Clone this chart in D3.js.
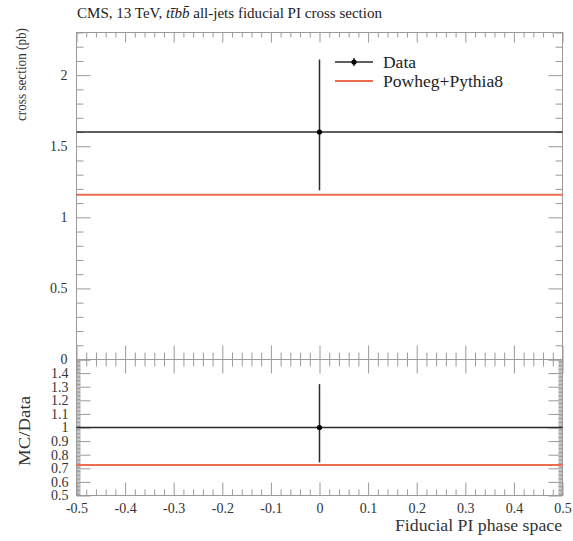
<!DOCTYPE html>
<html>
<head>
<meta charset="utf-8">
<script src="https://cdn.jsdelivr.net/npm/d3@7"></script>
<style>
  html, body { margin: 0; padding: 0; background: #fff; }
  svg { display: block; font-family: "Liberation Serif", "DejaVu Serif", serif; }
</style>
</head>
<body>
<svg id="chart" width="573" height="541"></svg>
<script>
// ---- data ----
const binEdges = [-0.5, 0.5];
const dataX = [0];
const dataY = [1.60];
const dataErrUp = [0.51];
const dataErrDown = [0.41];
const powhegY = [1.159];
const seriesNames = ["Data", "Powheg+Pythia8"];
const xTickValues = [-0.5, -0.4, -0.3, -0.2, -0.1, 0, 0.1, 0.2, 0.3, 0.4, 0.5];
const topYTickLabels = [0, 0.5, 1, 1.5, 2];
const ratioYTickLabels = [0.5, 0.6, 0.7, 0.8, 0.9, 1, 1.1, 1.2, 1.3, 1.4];

// ---- layout ----
const svg = d3.select("#chart");
const L = 76.5, R = 562.5, T = 32.5, MID = 359.5, B = 495.5;
const frameColor = "#9a9a9a";
const dataColor = "#2a2a2a";
const mcColor = "#ee6b52";

const x = d3.scaleLinear().domain([-0.5, 0.5]).range([L, R]);
const yTop = d3.scaleLinear().domain([0, 2.3]).range([MID, T]);
const yBot = d3.scaleLinear().domain([0.5, 1.5]).range([B, MID]);

const ratioY = dataY.map((d) => 1);
const ratioUp = dataY.map((d, i) => dataErrUp[i] / d);
const ratioDown = dataY.map((d, i) => dataErrDown[i] / d);
const ratioMC = powhegY.map((p, i) => p / dataY[i]);

function range(a, b, step) {
  const out = [];
  const n = Math.round((b - a) / step);
  for (let i = 0; i <= n; i++) out.push(+(a + i * step).toFixed(6));
  return out;
}
function isMult(v, m) { return Math.abs(v / m - Math.round(v / m)) < 1e-6; }

// ---- ticks (drawn with d3 axes) ----
function axisTicks(axisFn, scale, values, size, transform) {
  const g = svg.append("g").attr("transform", transform)
    .call(axisFn(scale).tickValues(values).tickSize(size).tickFormat(""));
  g.select(".domain").remove();
  g.selectAll("line").attr("stroke", frameColor).attr("stroke-width", 1);
  return g;
}
const xMinor = range(-0.5, 0.5, 0.02).filter(v => !isMult(v, 0.1));
const xMajor = range(-0.5, 0.5, 0.1);

// top panel: top border ticks (pointing down)
axisTicks(d3.axisBottom, x, xMajor, 10, `translate(0,${T})`);
axisTicks(d3.axisBottom, x, xMinor, 5, `translate(0,${T})`);
// top panel: bottom ticks (pointing up)
axisTicks(d3.axisTop, x, xMajor, 14, `translate(0,${MID})`);
axisTicks(d3.axisTop, x, xMinor, 7, `translate(0,${MID})`);
// ratio panel: top ticks (pointing down)
axisTicks(d3.axisBottom, x, xMajor, 14, `translate(0,${MID})`);
axisTicks(d3.axisBottom, x, xMinor, 7, `translate(0,${MID})`);
// ratio panel: bottom ticks (pointing up)
axisTicks(d3.axisTop, x, xMajor, 13, `translate(0,${B})`);
axisTicks(d3.axisTop, x, xMinor, 6, `translate(0,${B})`);

// top panel y ticks
const yTopMajor = range(0, 2.0, 0.5);
const yTopMinor = range(0, 2.3, 0.1).filter(v => !isMult(v, 0.5));
axisTicks(d3.axisRight, yTop, yTopMajor, 14, `translate(${L},0)`);
axisTicks(d3.axisRight, yTop, yTopMinor, 7, `translate(${L},0)`);
axisTicks(d3.axisLeft, yTop, yTopMajor, 14, `translate(${R},0)`);
axisTicks(d3.axisLeft, yTop, yTopMinor, 7, `translate(${R},0)`);

// ratio y ticks
const yBotMajor = range(0.5, 1.5, 0.1);
const yBotMinor = range(0.5, 1.5, 0.01).filter(v => !isMult(v, 0.1));
axisTicks(d3.axisRight, yBot, yBotMajor, 14, `translate(${L},0)`);
axisTicks(d3.axisRight, yBot, yBotMinor, 4, `translate(${L},0)`);
axisTicks(d3.axisLeft, yBot, yBotMajor, 14, `translate(${R},0)`);
axisTicks(d3.axisLeft, yBot, yBotMinor, 4, `translate(${R},0)`);

// frames
svg.append("rect").attr("x", L).attr("y", T).attr("width", R - L).attr("height", MID - T)
  .attr("fill", "none").attr("stroke", frameColor).attr("stroke-width", 1);
svg.append("rect").attr("x", L).attr("y", MID).attr("width", R - L).attr("height", B - MID)
  .attr("fill", "none").attr("stroke", frameColor).attr("stroke-width", 1);

// ---- tick labels ----
const fmt = d => (d === 0 ? "0" : String(d));
const labFont = 14;
const yLabTop = svg.append("g").attr("transform", `translate(${L},0)`)
  .call(d3.axisLeft(yTop).tickValues(topYTickLabels).tickSize(0).tickPadding(9).tickFormat(fmt));
yLabTop.select(".domain").remove();
yLabTop.selectAll("text").attr("font-size", labFont).attr("font-family", "Liberation Serif").attr("fill", "#333");

const yLabBot = svg.append("g").attr("transform", `translate(${L},0)`)
  .call(d3.axisLeft(yBot).tickValues(ratioYTickLabels).tickSize(0).tickPadding(8).tickFormat(fmt));
yLabBot.select(".domain").remove();
yLabBot.selectAll("text").attr("font-size", labFont).attr("font-family", "Liberation Serif").attr("fill", "#333");

const xLab = svg.append("g").attr("transform", `translate(0,${B})`)
  .call(d3.axisBottom(x).tickValues(xTickValues).tickSize(0).tickPadding(8).tickFormat(fmt));
xLab.select(".domain").remove();
xLab.selectAll("text").attr("font-size", labFont).attr("font-family", "Liberation Serif").attr("fill", "#333");

// ---- marks: top panel ----
const gTop = svg.append("g");
gTop.append("line")
  .attr("x1", x(binEdges[0])).attr("x2", x(binEdges[1]))
  .attr("y1", yTop(powhegY[0])).attr("y2", yTop(powhegY[0]))
  .attr("stroke", mcColor).attr("stroke-width", 2);
gTop.append("line")
  .attr("x1", x(binEdges[0])).attr("x2", x(binEdges[1]))
  .attr("y1", yTop(dataY[0])).attr("y2", yTop(dataY[0]))
  .attr("stroke", dataColor).attr("stroke-width", 1.5);
gTop.selectAll(".err").data(dataX).enter().append("line")
  .attr("x1", d => x(d)).attr("x2", d => x(d))
  .attr("y1", (d, i) => yTop(dataY[i] + dataErrUp[i]))
  .attr("y2", (d, i) => yTop(dataY[i] - dataErrDown[i]))
  .attr("stroke", dataColor).attr("stroke-width", 1.5);
gTop.selectAll(".pt").data(dataX).enter().append("circle")
  .attr("cx", d => x(d)).attr("cy", (d, i) => yTop(dataY[i])).attr("r", 2.6)
  .attr("fill", "#000");

// ---- marks: ratio panel ----
const gBot = svg.append("g");
gBot.append("line")
  .attr("x1", x(binEdges[0])).attr("x2", x(binEdges[1]))
  .attr("y1", yBot(ratioMC[0])).attr("y2", yBot(ratioMC[0]))
  .attr("stroke", mcColor).attr("stroke-width", 2);
gBot.append("line")
  .attr("x1", x(binEdges[0])).attr("x2", x(binEdges[1]))
  .attr("y1", yBot(ratioY[0])).attr("y2", yBot(ratioY[0]))
  .attr("stroke", dataColor).attr("stroke-width", 1.5);
gBot.selectAll(".err").data(dataX).enter().append("line")
  .attr("x1", d => x(d)).attr("x2", d => x(d))
  .attr("y1", (d, i) => yBot(ratioY[i] + ratioUp[i]))
  .attr("y2", (d, i) => yBot(ratioY[i] - ratioDown[i]))
  .attr("stroke", dataColor).attr("stroke-width", 1.5);
gBot.selectAll(".pt").data(dataX).enter().append("circle")
  .attr("cx", d => x(d)).attr("cy", (d, i) => yBot(ratioY[i])).attr("r", 2.6)
  .attr("fill", "#000");

// ---- legend ----
const lg = svg.append("g");
lg.append("line").attr("x1", 335).attr("x2", 373).attr("y1", 62).attr("y2", 62)
  .attr("stroke", dataColor).attr("stroke-width", 1.5);
lg.append("line").attr("x1", 354).attr("x2", 354).attr("y1", 58).attr("y2", 66)
  .attr("stroke", dataColor).attr("stroke-width", 1.5);
lg.append("circle").attr("cx", 354).attr("cy", 62).attr("r", 2.6).attr("fill", "#000");
lg.append("line").attr("x1", 335).attr("x2", 373).attr("y1", 81).attr("y2", 81)
  .attr("stroke", mcColor).attr("stroke-width", 2);
lg.append("text").attr("x", 383).attr("y", 67.5).attr("font-size", 16)
  .attr("textLength", 33).attr("lengthAdjust", "spacingAndGlyphs")
  .attr("fill", "#222").text(seriesNames[0]);
lg.append("text").attr("x", 383).attr("y", 86.5).attr("font-size", 16)
  .attr("textLength", 120).attr("lengthAdjust", "spacingAndGlyphs")
  .attr("fill", "#222").text(seriesNames[1]);

// ---- titles ----
const title = svg.append("text").attr("x", 77).attr("y", 18).attr("font-size", 14)
  .attr("fill", "#222").attr("textLength", 305).attr("lengthAdjust", "spacingAndGlyphs");
title.append("tspan").text("CMS, 13 TeV, ");
title.append("tspan").attr("font-style", "italic").text("tt\u0304bb\u0304");
title.append("tspan").text(" all-jets fiducial PI cross section");

svg.append("text").attr("transform", "translate(26,28) rotate(-90)")
  .attr("text-anchor", "end").attr("font-size", 14).attr("fill", "#333")
  .attr("textLength", 93).attr("lengthAdjust", "spacingAndGlyphs")
  .text("cross section (pb)");
svg.append("text").attr("transform", "translate(30,396) rotate(-90)")
  .attr("text-anchor", "end").attr("font-size", 17).attr("fill", "#333")
  .attr("textLength", 70).attr("lengthAdjust", "spacingAndGlyphs")
  .text("MC/Data");
svg.append("text").attr("x", 562).attr("y", 531).attr("text-anchor", "end")
  .attr("font-size", 16).attr("fill", "#333")
  .attr("textLength", 167).attr("lengthAdjust", "spacingAndGlyphs")
  .text("Fiducial PI phase space");
</script>
</body>
</html>
